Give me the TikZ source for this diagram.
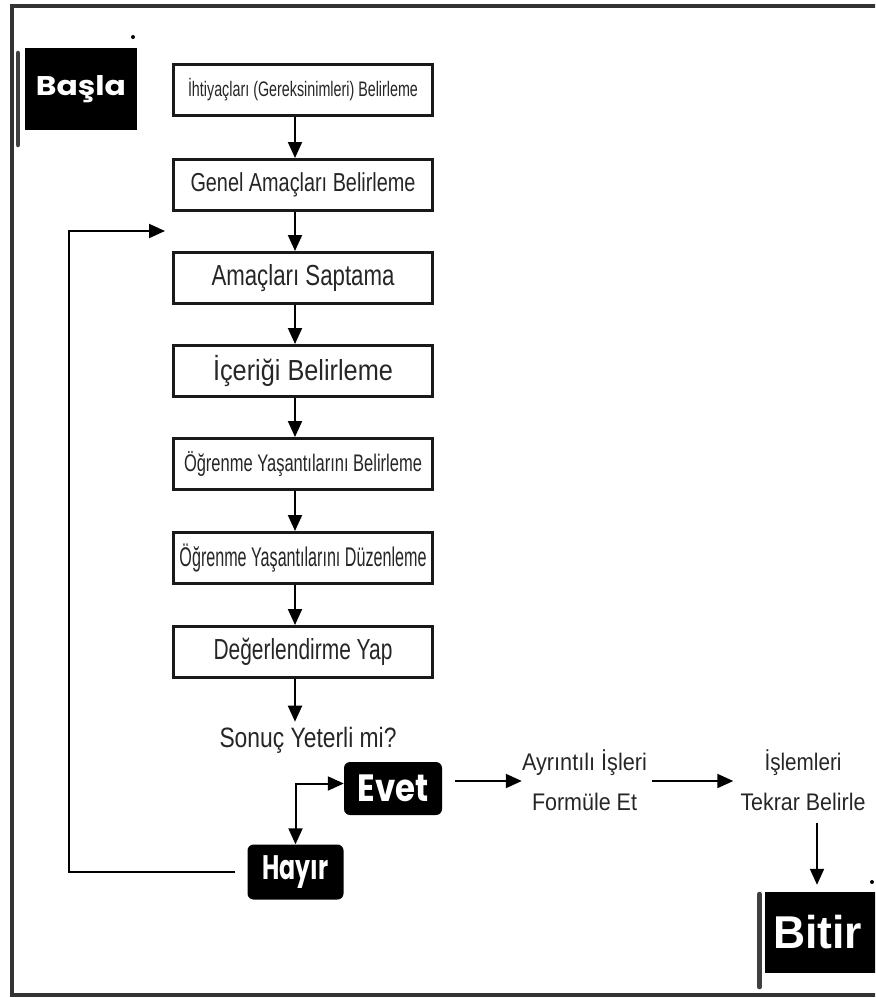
\documentclass[tikz,border=0pt]{standalone}
\usepackage{fontspec}
\setmainfont{Liberation Sans}
\newfontfamily\popfont{Poppins}
\usetikzlibrary{arrows.meta}
\newcommand{\nw}[3]{\resizebox{#1pt}{\height}{\fontsize{#2pt}{#2pt}\selectfont #3}}
\tikzset{
 stepbox/.style={draw=black!90, line width=3pt, fill=white, minimum width=259pt, minimum height=51pt, inner sep=0pt, text=black!85},
 arr/.style={line width=2pt, -{Triangle[length=16pt,width=14pt]}},
 darr/.style={line width=2pt, {Triangle[length=16pt,width=14pt]}-{Triangle[length=16pt,width=14pt]}},
 tag/.style={fill=black, rounded corners=6pt, text=white, inner sep=0pt},
 flag/.style={fill=black, text=white, inner sep=0pt},
 pole/.style={line width=4.5pt, black!75, line cap=round},
 plain/.style={inner sep=0pt, text=black!85, align=center},
}
\begin{document}
\begin{tikzpicture}[x=1pt,y=-1pt]
\useasboundingbox (0,0) rectangle (875,998);
\clip (0,0) rectangle (875,998);
\draw[line width=3.5pt, black!80] (900,6) -- (12,6) -- (12,995) -- (900,995);

% start flag
\node[flag, minimum width=112pt, minimum height=82pt] (basla) at (81,89) {\popfont\bfseries\nw{90}{27}{Başla}};
\draw[pole] (18,53) -- (18,145);
\fill (133,37) circle (2pt);

% steps
\node[stepbox] (b1) at (303,90) {\nw{230}{21}{İhtiyaçları (Gereksinimleri) Belirleme}};
\node[stepbox] (b2) at (303,185) {\nw{225}{26}{Genel Amaçları Belirleme}};
\node[stepbox] (b3) at (303,278) {\nw{183}{29}{Amaçları Saptama}};
\node[stepbox] (b4) at (303,371) {\nw{180}{29}{İçeriği Belirleme}};
\node[stepbox] (b5) at (303,464) {\nw{238}{24}{Öğrenme Yaşantılarını Belirleme}};
\node[stepbox] (b6) at (303,558) {\nw{247}{27}{Öğrenme Yaşantılarını Düzenleme}};
\node[stepbox] (b7) at (303,652) {\nw{179}{29}{Değerlendirme Yap}};

\foreach \a/\b in {b1/b2,b2/b3,b3/b4,b4/b5,b5/b6,b6/b7}
  \draw[arr] ([xshift=-8pt]\a.south) -- ([xshift=-8pt]\b.north);

\node[plain] (sonuc) at (308,740) {\nw{177}{28}{Sonuç Yeterli mi?}};
\coordinate (a7) at ([xshift=-8pt]b7.south);
\draw[arr, shorten >=5pt] (a7) -- (a7 |- sonuc.north);

% decision
\node[tag, minimum width=98pt, minimum height=53pt] (evet) at (393,788.5) {\popfont\bfseries\nw{71}{38}{Evet}};
\node[tag, minimum width=96pt, minimum height=55pt] (hayir) at (295.5,872) {\popfont\bfseries\nw{66}{34}{Hayır}};
\draw[darr] (hayir.north) |- ([yshift=5pt]evet.west);

% loop back
\coordinate (lp) at (165,231);
\draw[arr] ([xshift=-12pt]hayir.west) -- (69,872) -- (69,231) -- (lp);

% right branch
\node[plain, font=\fontsize{24pt}{40pt}\selectfont] (ayr) at (584.5,780) {\nw{125}{24}{Ayrıntılı İşleri}\\\nw{105}{24}{Formüle Et}};
\node[plain, font=\fontsize{24pt}{40pt}\selectfont] (isl) at (803,780) {\nw{77}{24}{İşlemleri}\\\nw{125}{24}{Tekrar Belirle}};
\coordinate (e1) at (455,781);
\coordinate (e2) at (652,781);
\draw[arr] (e1) -- (e1 -| ayr.west);
\draw[arr, shorten >=7pt] (e2) -- (e2 -| isl.west);

% end flag
\node[flag, anchor=west, minimum height=81pt, text width=112pt, align=left, inner xsep=8pt] (bitir) at (765,932.5) {\bfseries\nw{89}{46}{Bitir}};
\draw[pole] (759.5,894) -- (759.5,987);
\fill (872,882) circle (2pt);
\coordinate (d1) at (817,823);
\draw[arr, shorten >=7pt] (d1) -- (d1 |- bitir.north);
\end{tikzpicture}
\end{document}
